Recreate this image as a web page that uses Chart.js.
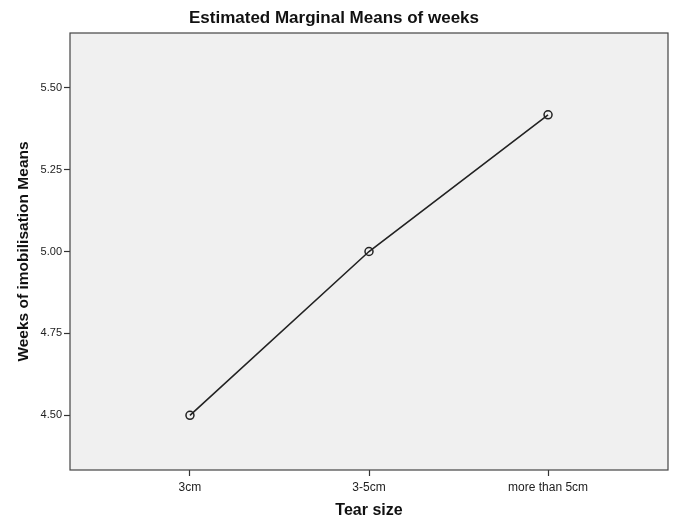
<!DOCTYPE html>
<html>
<head>
<meta charset="utf-8">
<script src="https://cdn.jsdelivr.net/npm/chart.js@4/dist/chart.umd.min.js"></script>
<style>
  html, body { margin: 0; padding: 0; background: #fff; }
  #wrap { width: 675px; height: 520px; }
</style>
</head>
<body>
<div id="wrap"><canvas id="emmChart" width="675" height="520"></canvas></div>
<script>
const tearSizes = ['3cm', '3-5cm', 'more than 5cm'];
const weeksMeans = [4.50, 5.00, 5.417];
const yTicks = [4.50, 4.75, 5.00, 5.25, 5.50];

const plotFrame = {
  id: 'plotFrame',
  beforeDraw(chart) {
    const a = chart.chartArea;
    const c = chart.ctx;
    c.save();
    c.fillStyle = '#f0f0f0';
    c.fillRect(a.left, a.top, a.right - a.left, a.bottom - a.top);
    c.restore();
  },
  afterDraw(chart) {
    const a = chart.chartArea;
    const c = chart.ctx;
    c.save();
    c.strokeStyle = '#444';
    c.lineWidth = 1.2;
    c.strokeRect(a.left, a.top, a.right - a.left, a.bottom - a.top);
    c.restore();
  }
};

const ctx = document.getElementById('emmChart').getContext('2d');
const emmChart = new Chart(ctx, {
  type: 'line',
  data: {
    datasets: [{
      label: 'weeks',
      data: weeksMeans.map((v, i) => ({ x: i, y: v })),
      borderColor: '#222',
      borderWidth: 1.6,
      pointStyle: 'circle',
      pointRadius: 4,
      pointBorderWidth: 1.5,
      pointBorderColor: '#222',
      pointBackgroundColor: 'rgba(0,0,0,0)',
      tension: 0
    }]
  },
  options: {
    responsive: false,
    animation: false,
    layout: { padding: { left: 0, right: 7, top: 0, bottom: 0 } },
    plugins: {
      legend: { display: false },
      tooltip: { enabled: false },
      title: {
        display: true,
        text: 'Estimated Marginal Means of weeks',
        color: '#111',
        font: { family: 'Liberation Sans', size: 17, weight: 'bold' },
        padding: { top: 8, bottom: 4.6 }
      }
    },
    scales: {
      x: {
        type: 'linear',
        min: -0.67,
        max: 2.67,
        afterBuildTicks: s => { s.ticks = tearSizes.map((t, i) => ({ value: i })); },
        afterFit: s => { s.height = 50; },
        ticks: {
          callback: (v) => tearSizes[v],
          color: '#222',
          font: { family: 'Liberation Sans', size: 12 },
          padding: 4,
          maxRotation: 0
        },
        grid: { drawOnChartArea: false, tickLength: 6, tickColor: '#333', tickWidth: 1.2 },
        border: { display: false },
        title: {
          display: true,
          text: 'Tear size',
          color: '#111',
          font: { family: 'Liberation Sans', size: 16, weight: 'bold' },
          padding: { top: 0, bottom: 0 }
        }
      },
      y: {
        min: 4.3333,
        max: 5.6667,
        afterBuildTicks: s => { s.ticks = yTicks.map(v => ({ value: v })); },
        afterFit: s => { s.width = 70; },
        ticks: {
          callback: (v) => v.toFixed(2),
          color: '#222',
          font: { family: 'Liberation Sans', size: 11 },
          padding: 2
        },
        grid: { drawOnChartArea: false, tickLength: 6, tickColor: '#333', tickWidth: 1.2 },
        border: { display: false },
        title: {
          display: true,
          text: 'Weeks of imobilisation Means',
          color: '#111',
          font: { family: 'Liberation Sans', size: 15.5, weight: 'bold' },
          padding: { top: 14, bottom: 0 }
        }
      }
    }
  },
  plugins: [plotFrame]
});
</script>
</body>
</html>
